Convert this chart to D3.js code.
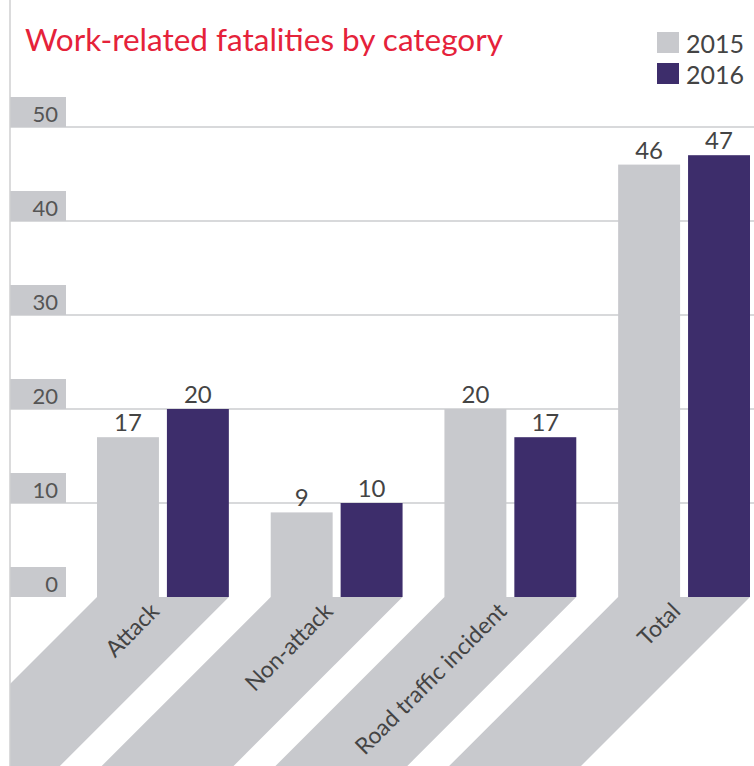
<!DOCTYPE html>
<html>
<head>
<meta charset="utf-8">
<script src="https://cdn.jsdelivr.net/npm/d3@7"></script>
<style>
  html, body { margin: 0; padding: 0; background: #fff; }
  svg { display: block; font-family: Lato, "Open Sans", sans-serif; }
</style>
</head>
<body>
<svg id="chart" width="754" height="766"></svg>
<script>
const title = "Work-related fatalities by category";
const categories = ["Attack", "Non-attack", "Road traffic incident", "Total"];
const seriesNames = ["2015", "2016"];
const values2015 = [17, 9, 20, 46];
const values2016 = [20, 10, 17, 47];
const yTicks = [0, 10, 20, 30, 40, 50];

const colors = { "2015": "#c8c9cd", "2016": "#3d2d6b" };
const W = 754, H = 766;
const svg = d3.select("#chart");

const y = d3.scaleLinear().domain([0, 50]).range([597, 127]);
const x0 = d3.scaleBand().domain(categories).range([97, 750]).paddingInner(0.241).paddingOuter(0);
const x1 = d3.scaleBand().domain(seriesNames).range([0, x0.bandwidth()]).paddingInner(0.114);

const data = categories.map((c, i) => ({ cat: c, vals: [
  { s: "2015", v: values2015[i] }, { s: "2016", v: values2016[i] } ] }));

svg.append("defs").append("clipPath").attr("id", "clipL")
  .append("rect").attr("x", 10).attr("y", 0).attr("width", W - 10).attr("height", H);

// gridlines
svg.append("g").selectAll("line").data(yTicks.filter(d => d > 0)).join("line")
  .attr("x1", 10).attr("x2", W).attr("y1", d => y(d)).attr("y2", d => y(d))
  .attr("stroke", "#d8d9db").attr("stroke-width", 2);

// tick label boxes
const tk = svg.append("g");
tk.selectAll("rect").data(yTicks).join("rect")
  .attr("x", 10).attr("width", 56).attr("y", d => y(d) - 30).attr("height", 30)
  .attr("fill", "#c8c9cd");
tk.selectAll("text").data(yTicks).join("text")
  .attr("x", 58).attr("y", d => y(d) - 5).attr("text-anchor", "end")
  .attr("font-size", 22).attr("fill", "#555").text(d => d);

// slanted bands
const L = 260;
const bandG = svg.append("g").attr("clip-path", "url(#clipL)");
bandG.selectAll("path").data(categories).join("path")
  .attr("d", c => {
    const a = x0(c), b = x0(c) + x0.bandwidth(), t = y(0);
    return `M${a},${t}L${b},${t}L${b - L},${t + L}L${a - L},${t + L}Z`;
  })
  .attr("fill", "#c8c9cd");

// category labels along bands
bandG.selectAll("text").data(categories).join("text")
  .attr("transform", c => {
    const cx = x0(c) + x0.bandwidth() / 2;
    const d = 10;
    return `translate(${cx - d + 2},${y(0) + d}) rotate(-45)`;
  })
  .attr("text-anchor", "end").attr("dy", "0.35em")
  .attr("font-size", 23).attr("fill", "#444").text(c => c);

// bars
const groups = svg.append("g").selectAll("g").data(data).join("g")
  .attr("transform", d => `translate(${x0(d.cat)},0)`);
groups.selectAll("rect").data(d => d.vals).join("rect")
  .attr("x", d => x1(d.s)).attr("width", x1.bandwidth())
  .attr("y", d => y(d.v)).attr("height", d => y(0) - y(d.v))
  .attr("fill", d => colors[d.s]);
groups.selectAll("text").data(d => d.vals).join("text")
  .attr("x", d => x1(d.s) + x1.bandwidth() / 2).attr("y", d => y(d.v) - 6)
  .attr("text-anchor", "middle").attr("font-size", 24).attr("fill", "#444")
  .text(d => d.v);

// left border
svg.append("line").attr("x1", 10).attr("x2", 10).attr("y1", 0).attr("y2", H)
  .attr("stroke", "#cfcfd1").attr("stroke-width", 1.5);

// title
const t = svg.append("text").attr("x", 25).attr("y", 51)
  .attr("font-size", 32).attr("fill", "#e5223a").text(title);
const tw = t.node().getComputedTextLength();
t.attr("font-size", 32 * 478 / tw);

// legend
const lg = svg.append("g").selectAll("g").data(seriesNames).join("g")
  .attr("transform", (d, i) => `translate(657,${32 + i * 31})`);
lg.append("rect").attr("width", 22).attr("height", 21).attr("fill", d => colors[d]);
lg.append("text").attr("x", 29).attr("y", 21).attr("font-size", 25).attr("fill", "#444").text(d => d);
</script>
</body>
</html>
